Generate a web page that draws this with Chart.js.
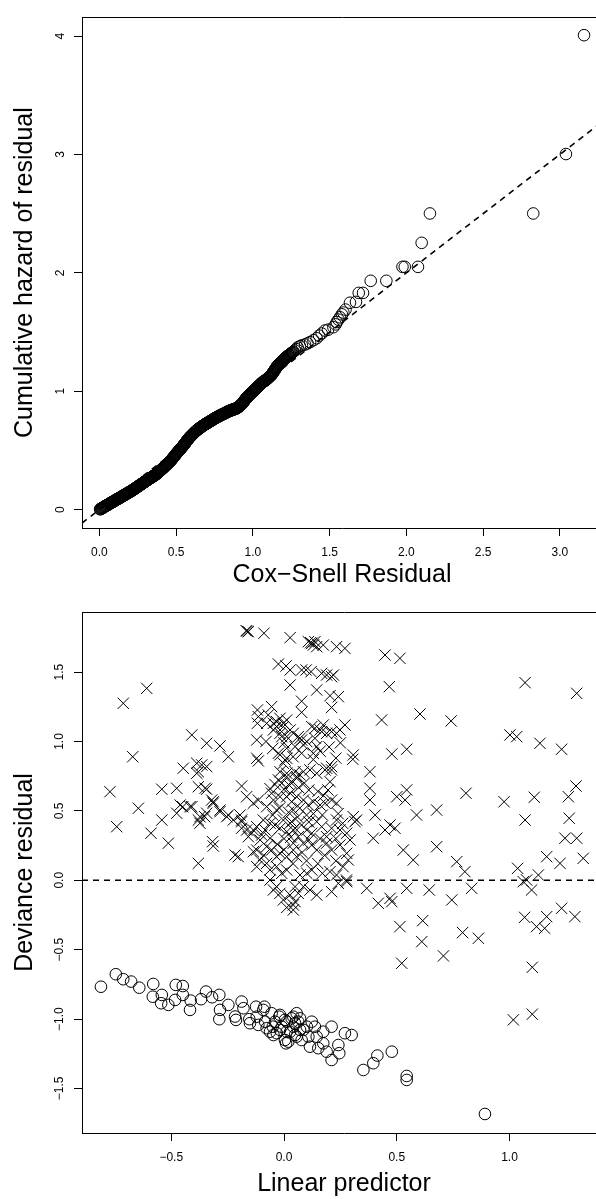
<!DOCTYPE html>
<html>
<head>
<meta charset="utf-8">
<title>Cox model residuals</title>
<script src="https://cdn.jsdelivr.net/npm/chart.js@4.4.1/dist/chart.umd.min.js"></script>
<style>
  html, body { margin: 0; padding: 0; background: #fff; overflow: hidden; }
  .panel { position: absolute; left: 0; }
  #panel-cs  { top: 0; }
  #panel-dev { top: 590px; }
</style>
</head>
<body>
<div class="panel" id="panel-cs"><canvas id="cs-chart" width="620" height="590"></canvas></div>
<div class="panel" id="panel-dev"><canvas id="dev-chart" width="620" height="609"></canvas></div>
<script>
// Two residual diagnostics for a Cox model, drawn base-graphics style:
// Cox-Snell residual vs its cumulative hazard (with the y = x line), and
// deviance residual vs linear predictor (censored = circles, events = crosses).

const MINUS = '\u2212';

// --- Cox-Snell panel --------------------------------------------------------
const csXTicks = [0, 0.5, 1, 1.5, 2, 2.5, 3];
const csXLabels = ['0.0', '0.5', '1.0', '1.5', '2.0', '2.5', '3.0'];
const csYTicks = [0, 1, 2, 3, 4];
const csYLabels = ['0', '1', '2', '3', '4'];
const csXRange = [-0.113, 3.275];
const csYRange = [-0.155, 4.16];
const csRefLine = { intercept: 0, slope: 1 };

// [residual, cumulative hazard]; sorted by residual, packed tight below ~1.3
const csPoints = [
  [0.005,0.003],[0.008,0.005],[0.011,0.008],[0.014,0.010],[0.017,0.012],[0.020,0.014],[0.023,0.017],[0.026,0.019],
  [0.029,0.021],[0.032,0.024],[0.035,0.026],[0.038,0.028],[0.041,0.031],[0.044,0.033],[0.047,0.035],[0.050,0.038],
  [0.053,0.040],[0.056,0.042],[0.059,0.044],[0.062,0.047],[0.065,0.049],[0.068,0.051],[0.071,0.054],[0.074,0.056],
  [0.077,0.058],[0.080,0.060],[0.083,0.063],[0.086,0.065],[0.089,0.067],[0.092,0.070],[0.095,0.072],[0.098,0.074],
  [0.101,0.077],[0.104,0.079],[0.107,0.081],[0.110,0.083],[0.113,0.086],[0.116,0.088],[0.119,0.090],[0.122,0.092],
  [0.125,0.095],[0.128,0.097],[0.131,0.099],[0.134,0.101],[0.137,0.104],[0.140,0.106],[0.143,0.108],[0.146,0.110],
  [0.149,0.113],[0.152,0.115],[0.155,0.117],[0.158,0.119],[0.161,0.122],[0.164,0.124],[0.167,0.127],[0.170,0.129],
  [0.173,0.131],[0.176,0.133],[0.179,0.136],[0.182,0.138],[0.185,0.140],[0.188,0.142],[0.191,0.145],[0.194,0.147],
  [0.197,0.150],[0.200,0.152],[0.203,0.154],[0.206,0.156],[0.209,0.159],[0.212,0.161],[0.215,0.163],[0.218,0.166],
  [0.221,0.169],[0.224,0.171],[0.227,0.174],[0.230,0.176],[0.233,0.179],[0.236,0.182],[0.239,0.185],[0.242,0.187],
  [0.245,0.190],[0.248,0.192],[0.251,0.195],[0.254,0.198],[0.257,0.201],[0.260,0.203],[0.263,0.206],[0.266,0.208],
  [0.269,0.211],[0.272,0.214],[0.275,0.217],[0.278,0.219],[0.281,0.222],[0.284,0.224],[0.287,0.227],[0.290,0.230],
  [0.293,0.233],[0.296,0.235],[0.299,0.238],[0.302,0.240],[0.305,0.243],[0.308,0.246],[0.311,0.249],[0.314,0.251],
  [0.317,0.254],[0.320,0.256],[0.323,0.259],[0.326,0.261],[0.329,0.264],[0.332,0.266],[0.335,0.269],[0.338,0.271],
  [0.341,0.274],[0.344,0.276],[0.347,0.279],[0.350,0.281],[0.353,0.284],[0.356,0.286],[0.359,0.289],[0.362,0.291],
  [0.365,0.294],[0.368,0.297],[0.371,0.300],[0.374,0.303],[0.377,0.307],[0.380,0.310],[0.383,0.314],[0.386,0.317],
  [0.389,0.321],[0.392,0.324],[0.395,0.328],[0.398,0.331],[0.401,0.335],[0.404,0.338],[0.407,0.341],[0.410,0.344],
  [0.413,0.348],[0.416,0.352],[0.419,0.356],[0.422,0.359],[0.425,0.363],[0.428,0.367],[0.431,0.371],[0.434,0.374],
  [0.437,0.378],[0.440,0.382],[0.443,0.386],[0.446,0.389],[0.449,0.393],[0.452,0.397],[0.455,0.401],[0.458,0.404],
  [0.461,0.408],[0.464,0.412],[0.467,0.417],[0.470,0.421],[0.473,0.426],[0.476,0.431],[0.479,0.436],[0.482,0.440],
  [0.485,0.445],[0.488,0.450],[0.491,0.455],[0.494,0.460],[0.497,0.465],[0.500,0.470],[0.503,0.475],[0.506,0.479],
  [0.509,0.484],[0.512,0.488],[0.515,0.493],[0.518,0.497],[0.521,0.502],[0.524,0.506],[0.527,0.511],[0.530,0.515],
  [0.533,0.520],[0.536,0.524],[0.539,0.529],[0.542,0.533],[0.545,0.538],[0.548,0.543],[0.551,0.548],[0.554,0.553],
  [0.557,0.558],[0.560,0.563],[0.563,0.569],[0.566,0.574],[0.569,0.579],[0.572,0.584],[0.575,0.589],[0.578,0.594],
  [0.581,0.600],[0.584,0.604],[0.587,0.609],[0.590,0.613],[0.593,0.617],[0.596,0.621],[0.599,0.625],[0.602,0.629],
  [0.605,0.633],[0.608,0.637],[0.611,0.641],[0.614,0.644],[0.617,0.648],[0.620,0.652],[0.623,0.656],[0.626,0.660],
  [0.629,0.664],[0.632,0.667],[0.635,0.671],[0.638,0.673],[0.641,0.676],[0.644,0.679],[0.647,0.682],[0.650,0.685],
  [0.653,0.688],[0.656,0.691],[0.659,0.694],[0.662,0.696],[0.665,0.699],[0.668,0.702],[0.671,0.705],[0.674,0.708],
  [0.677,0.711],[0.680,0.713],[0.683,0.716],[0.686,0.718],[0.689,0.721],[0.692,0.723],[0.695,0.725],[0.698,0.728],
  [0.701,0.730],[0.704,0.732],[0.707,0.735],[0.710,0.737],[0.713,0.740],[0.716,0.742],[0.719,0.744],[0.722,0.747],
  [0.725,0.749],[0.728,0.751],[0.731,0.754],[0.734,0.756],[0.737,0.759],[0.740,0.761],[0.743,0.763],[0.746,0.766],
  [0.749,0.768],[0.752,0.770],[0.755,0.773],[0.758,0.775],[0.761,0.778],[0.764,0.780],[0.767,0.782],[0.770,0.784],
  [0.773,0.786],[0.776,0.788],[0.779,0.790],[0.782,0.792],[0.785,0.794],[0.788,0.796],[0.791,0.798],[0.794,0.800],
  [0.797,0.802],[0.800,0.804],[0.803,0.806],[0.806,0.807],[0.809,0.809],[0.812,0.811],[0.815,0.813],[0.818,0.815],
  [0.821,0.817],[0.824,0.819],[0.827,0.821],[0.830,0.823],[0.833,0.825],[0.836,0.827],[0.839,0.829],[0.842,0.831],
  [0.845,0.833],[0.848,0.834],[0.851,0.836],[0.854,0.837],[0.857,0.839],[0.860,0.840],[0.863,0.842],[0.866,0.843],
  [0.869,0.845],[0.872,0.846],[0.875,0.847],[0.878,0.848],[0.881,0.850],[0.884,0.851],[0.887,0.853],[0.890,0.854],
  [0.893,0.856],[0.896,0.858],[0.899,0.860],[0.902,0.863],[0.905,0.866],[0.908,0.869],[0.911,0.873],[0.914,0.876],
  [0.917,0.879],[0.920,0.882],[0.923,0.886],[0.926,0.889],[0.929,0.892],[0.932,0.897],[0.935,0.902],[0.938,0.907],
  [0.941,0.913],[0.944,0.918],[0.947,0.924],[0.950,0.929],[0.953,0.935],[0.956,0.939],[0.959,0.944],[0.962,0.948],
  [0.965,0.952],[0.968,0.956],[0.971,0.960],[0.974,0.963],[0.977,0.967],[0.980,0.971],[0.983,0.975],[0.986,0.979],
  [0.989,0.983],[0.992,0.987],[0.995,0.991],[0.998,0.994],[1.001,0.998],[1.004,1.002],[1.007,1.006],[1.010,1.009],
  [1.013,1.013],[1.016,1.017],[1.019,1.021],[1.022,1.024],[1.025,1.028],[1.028,1.032],[1.031,1.036],[1.034,1.039],
  [1.037,1.043],[1.040,1.047],[1.043,1.051],[1.046,1.054],[1.049,1.058],[1.052,1.062],[1.055,1.066],[1.058,1.069],
  [1.061,1.073],[1.064,1.077],[1.067,1.080],[1.070,1.082],[1.073,1.085],[1.076,1.087],[1.079,1.090],[1.082,1.092],
  [1.085,1.095],[1.088,1.098],[1.091,1.102],[1.094,1.105],[1.097,1.109],[1.100,1.112],[1.103,1.116],[1.106,1.120],
  [1.109,1.124],[1.112,1.127],[1.115,1.131],[1.118,1.134],[1.121,1.138],[1.124,1.143],[1.127,1.148],[1.130,1.154],
  [1.133,1.160],[1.136,1.166],[1.139,1.172],[1.142,1.178],[1.145,1.184],[1.148,1.190],[1.151,1.196],[1.154,1.202],
  [1.157,1.208],[1.160,1.213],[1.163,1.219],[1.166,1.222],[1.169,1.226],[1.172,1.230],[1.175,1.234],[1.178,1.237],
  [1.181,1.241],[1.184,1.245],[1.187,1.249],[1.190,1.253],[1.193,1.257],[1.196,1.260],[1.199,1.264],[1.202,1.268],
  [1.205,1.272],[1.208,1.275],[1.211,1.279],[1.214,1.283],[1.217,1.287],[1.221,1.291],[1.225,1.296],[1.229,1.299],
  [1.233,1.303],[1.237,1.307],[1.241,1.311],[1.245,1.315],[1.249,1.319],[1.253,1.323],[1.257,1.327],[1.261,1.331],
  [1.265,1.335],[1.274,1.345],[1.283,1.357],[1.292,1.370],
  [1.307,1.380],[1.320,1.388],[1.340,1.395],[1.356,1.405],[1.373,1.415],[1.395,1.432],[1.416,1.448],[1.432,1.470],
  [1.449,1.488],[1.470,1.513],[1.490,1.520],[1.525,1.541],[1.540,1.565],[1.547,1.585],[1.558,1.605],[1.568,1.625],
  [1.580,1.650],[1.590,1.665],[1.604,1.690],[1.633,1.748],[1.672,1.755],[1.690,1.831],[1.718,1.831],[1.768,1.933],
  [1.870,1.933],[1.975,2.051],[1.990,2.051],[2.076,2.051],[2.100,2.254],[2.154,2.502],[2.827,2.502],[3.040,3.004],[3.158,4.008]
];

// --- deviance panel ---------------------------------------------------------
const devXTicks = [-0.5, 0, 0.5, 1];
const devXLabels = [MINUS + '0.5', '0.0', '0.5', '1.0'];
const devYTicks = [-1.5, -1, -0.5, 0, 0.5, 1, 1.5];
const devYLabels = [MINUS + '1.5', MINUS + '1.0', MINUS + '0.5', '0.0', '0.5', '1.0', '1.5'];
const devXRange = [-0.896, 1.428];
const devYRange = [-1.821, 1.933];
const devRefLine = { intercept: 0, slope: 0 };

// censored subjects: [linear predictor, deviance residual]
const censPoints = [
  [-0.812,-0.767],[-0.746,-0.677],[-0.713,-0.713],[-0.678,-0.730],[-0.642,-0.774],[-0.580,-0.747],[-0.582,-0.839],
  [-0.542,-0.826],[-0.545,-0.886],[-0.513,-0.898],[-0.480,-0.754],[-0.449,-0.762],[-0.449,-0.826],[-0.483,-0.862],
  [-0.414,-0.867],[-0.417,-0.934],[-0.368,-0.857],[-0.346,-0.802],[-0.319,-0.843],[-0.287,-0.826],[-0.284,-0.934],
  [-0.287,-1.001],[-0.247,-0.898],[-0.217,-0.982],[-0.213,-1.006],[-0.188,-0.874],[-0.180,-0.922],[-0.154,-1.001],
  [-0.151,-1.030],[-0.124,-0.911],[-0.121,-0.983],[-0.114,-1.042],[-0.087,-0.911],[-0.092,-0.934],[-0.084,-1.019],
  [-0.077,-1.066],[-0.062,-1.091],[-0.055,-0.958],[-0.050,-1.055],[-0.047,-1.115],[-0.040,-1.019],[-0.032,-1.102],
  [-0.021,-0.983],[-0.018,-0.970],[-0.018,-1.078],[-0.010,-1.055],[0.004,-1.151],[0.004,-1.006],[0.009,-1.175],
  [0.012,-1.019],[0.012,-1.091],[0.019,-1.163],[0.027,-1.091],[0.034,-0.995],[0.041,-1.055],[0.041,-0.983],
  [0.049,-1.030],[0.049,-1.115],[0.056,-0.958],[0.056,-1.127],[0.063,-1.019],[0.071,-1.078],[0.071,-0.995],
  [0.078,-1.151],[0.086,-1.078],[0.101,-1.055],[0.108,-1.127],[0.115,-1.199],[0.123,-1.019],[0.137,-1.055],
  [0.145,-1.127],[0.152,-1.210],[0.174,-1.091],[0.174,-1.175],[0.189,-1.235],[0.211,-1.055],[0.211,-1.295],
  [0.241,-1.187],[0.245,-1.246],[0.270,-1.102],[0.300,-1.115],[0.352,-1.367],[0.396,-1.318],[0.414,-1.263],
  [0.478,-1.235],[0.544,-1.410],[0.544,-1.439],[0.891,-1.684]
];

// subjects with an event: [linear predictor, deviance residual]
const eventPoints = [
  [-0.168,1.798],[-0.163,1.795],[-0.158,1.791],[-0.089,1.780],[0.027,1.748],[0.108,1.719],[0.118,1.712],[0.123,1.707],
  [0.130,1.695],[0.137,1.719],[0.145,1.683],[0.174,1.695],[0.233,1.683],[0.270,1.671],[0.448,1.623],[0.514,1.599],
  [-0.025,1.558],[0.009,1.544],[0.027,1.515],[0.078,1.515],[0.098,1.515],[0.120,1.503],[0.167,1.491],[0.189,1.479],
  [0.211,1.467],[0.219,1.479],[1.069,1.424],[0.027,1.407],[0.467,1.395],[-0.609,1.383],[0.145,1.371],[1.298,1.347],
  [0.204,1.330],[0.241,1.323],[0.078,1.290],[-0.713,1.275],[-0.055,1.251],[0.211,1.245],[-0.118,1.227],[0.078,1.210],
  [-0.114,1.179],[-0.070,1.191],[0.603,1.198],[-0.018,1.167],[0.012,1.155],[0.433,1.155],[0.741,1.148],[-0.118,1.131],
  [-0.077,1.131],[-0.047,1.131],[-0.033,1.143],[-0.003,1.131],[0.174,1.119],[0.270,1.119],[-0.033,1.107],[-0.003,1.107],
  [0.123,1.107],[0.137,1.095],[-0.047,1.083],[0.027,1.083],[0.160,1.083],[0.248,1.083],[0.167,1.071],[0.211,1.071],
  [-0.018,1.059],[0.041,1.059],[0.189,1.059],[0.233,1.059],[-0.409,1.047],[1.002,1.047],[1.032,1.035],[-0.010,1.035],
  [0.012,1.035],[0.063,1.035],[0.071,1.023],[0.137,1.023],[-0.121,1.011],[0.078,1.011],[0.101,0.999],[-0.343,0.987],
  [1.135,0.987],[0.086,0.975],[-0.284,0.968],[0.145,0.963],[0.049,0.963],[0.012,0.951],[1.231,0.944],[0.544,0.944],
  [-0.025,0.915],[0.078,0.915],[0.130,0.915],[0.478,0.910],[-0.018,0.904],[0.307,0.903],[-0.247,0.890],[-0.671,0.890],
  [-0.121,0.879],[0.012,0.879],[0.305,0.872],[0.004,0.867],[-0.114,0.860],[-0.003,0.843],[-0.387,0.843],[-0.365,0.831],
  [-0.343,0.819],[-0.447,0.807],[0.189,0.807],[0.182,0.795],[0.115,0.795],[0.211,0.819],[0.211,0.795],[-0.380,0.782],
  [-0.018,0.782],[0.049,0.782],[0.086,0.782],[0.381,0.782],[0.012,0.771],[0.145,0.771],[-0.387,0.771],[0.071,0.759],
  [0.056,0.747],[0.012,0.747],[0.056,0.735],[-0.025,0.723],[0.204,0.710],[-0.010,0.699],[0.034,0.699],
  [-0.188,0.679],[1.295,0.679],[-0.380,0.674],[-0.350,0.663],[-0.476,0.663],[0.381,0.663],[-0.542,0.656],[-0.343,0.656],
  [0.544,0.651],[-0.772,0.638],[0.807,0.627],[-0.055,0.627],[0.027,0.627],[-0.166,0.602],[1.110,0.598],[1.261,0.602],
  [0.500,0.602],[-0.018,0.602],[0.012,0.602],[0.056,0.602],[-0.321,0.578],[-0.114,0.578],[-0.047,0.578],[0.086,0.578],
  [0.211,0.578],[0.381,0.578],[0.537,0.578],[0.976,0.566],[0.034,0.566],[0.130,0.566],[-0.314,0.566],[-0.314,0.555],
  [-0.136,0.555],[0.182,0.555],[0.233,0.555],[-0.461,0.542],[0.108,0.542],[0.160,0.542],[-0.449,0.530],[-0.409,0.530],
  [-0.417,0.530],[-0.077,0.530],[-0.646,0.519],[-0.284,0.506],[-0.033,0.506],[0.041,0.506],[0.677,0.506],[-0.284,0.494],
  [-0.476,0.483],[-0.343,0.483],[0.588,0.470],[0.404,0.470],[-0.247,0.470],[-0.195,0.470],[-0.352,0.458],[-0.254,0.458],
  [-0.373,0.458],[0.307,0.458],[0.315,0.422],[1.265,0.447],[-0.542,0.434],[-0.380,0.434],[-0.188,0.434],[-0.225,0.434],
  [-0.092,0.434],[-0.003,0.434],[1.069,0.434],[0.233,0.434],[0.322,0.434],[-0.188,0.422],[0.034,0.422],[0.145,0.422],
  [-0.373,0.411],[-0.062,0.411],[0.027,0.411],[-0.040,0.398],[0.078,0.398],[0.470,0.398],[-0.742,0.386],[-0.121,0.386],
  [0.167,0.386],[-0.188,0.375],[-0.018,0.375],[0.049,0.375],[0.211,0.375],[0.492,0.375],[-0.166,0.362],[-0.136,0.362],
  [-0.084,0.362],[0.041,0.362],[0.101,0.362],[0.248,0.362],[0.448,0.362],[0.012,0.350],[-0.590,0.339],[-0.143,0.339],
  [0.123,0.339],[0.278,0.339],[-0.099,0.326],[-0.158,0.314],[0.063,0.314],[0.189,0.314],[-0.062,0.303],[0.396,0.303],
  [1.246,0.303],[1.298,0.303],[-0.106,0.290],[0.293,0.290],[-0.317,0.278],[-0.513,0.267],[0.041,0.267],[0.086,0.267],
  [0.189,0.267],[-0.314,0.247],[-0.077,0.242],[0.123,0.254],[0.248,0.254],[0.677,0.242],[-0.121,0.218],[-0.055,0.218],
  [0.041,0.218],[0.145,0.218],[0.211,0.218],[0.529,0.218],[-0.136,0.206],[-0.018,0.194],[0.278,0.194],[-0.217,0.182],
  [-0.203,0.170],[-0.033,0.170],[0.012,0.170],[0.056,0.170],[1.165,0.170],[0.285,0.146],[-0.108,0.146],[0.573,0.146],
  [1.327,0.158],[0.766,0.134],[-0.380,0.122],[-0.077,0.122],[1.224,0.122],[-0.121,0.098],[-0.033,0.098],[0.262,0.098],
  [1.036,0.086],[-0.062,0.075],[0.012,0.074],[0.123,0.074],[0.204,0.062],[0.802,0.062],[-0.010,0.050],[0.101,0.050],
  [0.071,0.038],[0.233,0.038],[1.128,0.038],[-0.062,0.002],[0.277,0.002],[1.076,0.002],
  [-0.062,0.660],[-0.040,0.690],[0.000,0.655],[0.020,0.690],[0.065,0.668],[0.090,0.700],[0.110,0.650],[0.150,0.640],
  [0.175,0.610],[0.195,0.650],[0.100,0.470],[0.130,0.480],[0.060,0.455],[0.020,0.490],[-0.050,0.470],[-0.020,0.520],
  [0.070,0.520],[0.170,0.470],[0.240,0.480],[0.260,0.410],[0.110,0.420],[0.000,0.300],[0.030,0.310],[0.110,0.290],
  [0.160,0.300],[0.230,0.300],[-0.030,0.260],[0.080,0.200],[0.180,0.180],[0.230,0.140],[0.150,0.120],[-0.090,0.180],
  [0.040,0.120],[0.100,0.140],[0.170,0.050],[0.000,0.220],[0.130,0.870],[0.160,0.930],[0.200,0.960],[0.230,0.880],
  [0.250,0.990],[0.040,0.890],[-0.050,0.950],[-0.080,1.000],[0.000,0.990],
  [0.241,-0.022],[0.278,-0.010],[1.061,-0.010],[-0.033,-0.046],[0.049,-0.046],[0.086,-0.046],[0.367,-0.058],[0.544,-0.058],
  [0.832,-0.058],[-0.047,-0.070],[0.115,-0.070],[0.211,-0.082],[0.644,-0.070],[1.098,-0.070],[-0.018,-0.094],[0.063,-0.094],
  [0.027,-0.106],[0.145,-0.106],[0.470,-0.130],[-0.003,-0.142],[0.744,-0.142],[0.049,-0.154],[0.478,-0.154],[0.418,-0.166],
  [0.041,-0.178],[0.012,-0.196],[0.041,-0.214],[1.231,-0.202],[1.067,-0.267],[1.165,-0.262],[1.290,-0.262],[0.615,-0.291],
  [0.514,-0.334],[1.120,-0.334],[1.156,-0.346],[0.792,-0.377],[0.862,-0.418],[0.611,-0.442],[0.707,-0.545],[0.522,-0.598],
  [1.101,-0.627],[1.101,-0.965],[1.017,-1.006]
];

const FONT = "'Liberation Sans', Arial, Helvetica, sans-serif";
const INK = '#000';

const toXY = pts => pts.map(([x, y]) => ({ x, y }));

// straight reference line across the whole x range
function refLine(line, range) {
  return range.map(x => ({ x, y: line.intercept + line.slope * x }));
}

// axis with ticks pointing out of the box and labels only at the given values
function boxAxis({ position, range, ticks, labels, size, title, vertical, labelPad }) {
  return {
    type: 'linear', position, min: range[0], max: range[1],
    afterBuildTicks: s => { s.ticks = ticks.map(v => ({ value: v })); },
    afterFit: s => { if (vertical) s.width = size; else s.height = size; },
    grid: { drawOnChartArea: false, drawTicks: true, tickLength: 8, color: INK, lineWidth: 1 },
    border: { display: true, color: INK, width: 1 },
    ticks: {
      autoSkip: false, color: INK, font: { family: FONT, size: 12 }, padding: labelPad,
      minRotation: vertical ? 90 : 0, maxRotation: vertical ? 90 : 0,
      crossAlign: vertical ? 'center' : 'near',
      callback: (v, i) => labels[i],
    },
    title: {
      display: true, text: title, color: INK, font: { family: FONT, size: 25 },
      padding: vertical ? { top: 10, bottom: 0 } : { top: 0, bottom: 0 },
    },
  };
}

// top edge of the box: a bare line, no ticks
function boxTop(range, size) {
  return {
    type: 'linear', position: 'top', min: range[0], max: range[1],
    afterFit: s => { s.height = size; },
    grid: { display: false, drawTicks: false },
    border: { display: true, color: INK, width: 1 },
    ticks: { display: false },
  };
}

function residualChart(canvas, cfg) {
  return new Chart(canvas, {
    type: 'scatter',
    data: { datasets: cfg.datasets },
    options: {
      responsive: false, animation: false, events: [],
      layout: { autoPadding: false, padding: { left: 0, right: cfg.padRight, top: 0, bottom: 0 } },
      plugins: { legend: { display: false }, tooltip: { enabled: false } },
      scales: {
        x: boxAxis({ position: 'bottom', range: cfg.xRange, ticks: cfg.xTicks, labels: cfg.xLabels,
                     size: cfg.bottomSize, title: cfg.xTitle, vertical: false, labelPad: 9 }),
        y: boxAxis({ position: 'left', range: cfg.yRange, ticks: cfg.yTicks, labels: cfg.yLabels,
                     size: 82, title: cfg.yTitle, vertical: true, labelPad: cfg.yLabelPad }),
        top: boxTop(cfg.xRange, cfg.topSize),
      },
    },
  });
}

const dashed = (data) => ({
  data, showLine: true, pointRadius: 0, borderColor: INK, borderWidth: 1.6, borderDash: [6, 5],
});
const circles = (data) => ({
  data, pointStyle: 'circle', pointRadius: 5.8, borderWidth: 1, borderColor: INK, backgroundColor: 'transparent',
});
const crosses = (data) => ({
  data, pointStyle: 'crossRot', pointRadius: 8, borderWidth: 1, borderColor: INK,
});

residualChart(document.getElementById('cs-chart'), {
  xRange: csXRange, yRange: csYRange,
  xTicks: csXTicks, xLabels: csXLabels, yTicks: csYTicks, yLabels: csYLabels,
  xTitle: 'Cox' + MINUS + 'Snell Residual', yTitle: 'Cumulative hazard of residual',
  topSize: 7, bottomSize: 62, padRight: 18, yLabelPad: 10,
  datasets: [dashed(refLine(csRefLine, csXRange)), circles(toXY(csPoints))],
});

residualChart(document.getElementById('dev-chart'), {
  xRange: devXRange, yRange: devYRange,
  xTicks: devXTicks, xLabels: devXLabels, yTicks: devYTicks, yLabels: devYLabels,
  xTitle: 'Linear predictor', yTitle: 'Deviance residual',
  topSize: 22, bottomSize: 66, padRight: 14, yLabelPad: 2,
  datasets: [dashed(refLine(devRefLine, devXRange)), circles(toXY(censPoints)), crosses(toXY(eventPoints))],
});
</script>
</body>
</html>
